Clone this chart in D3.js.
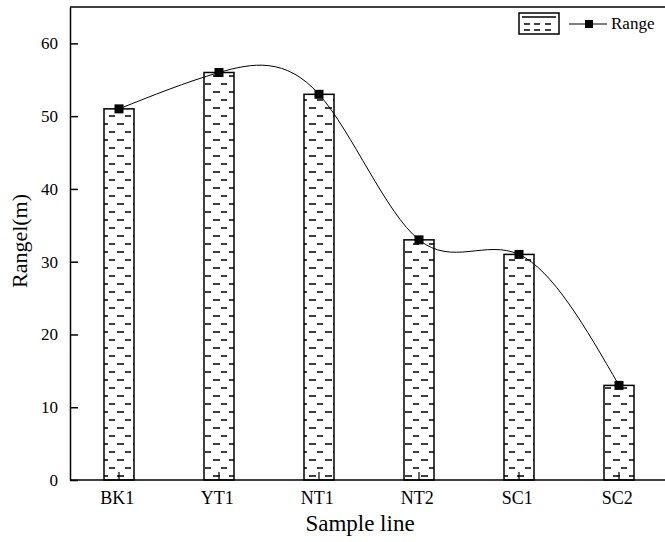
<!DOCTYPE html>
<html>
<head>
<meta charset="utf-8">
<script src="https://cdn.jsdelivr.net/npm/d3@7"></script>
<style>
  body { margin: 0; background: #fff; }
  svg { display: block; }
</style>
</head>
<body>
<script>
const categories = ["BK1", "YT1", "NT1", "NT2", "SC1", "SC2"];
const rangeValues = [51, 56, 53, 33, 31, 13];
const yTicks = [0, 10, 20, 30, 40, 50, 60];

const FONT = "Liberation Serif";

function main() {
    const width = 665;
    const height = 542;
    const margin = { left: 70, top: 7, bottom: 62 };
    const plotBottom = height - margin.bottom;

    const svg = d3.select("body").append("svg")
        .attr("width", width)
        .attr("height", height)
        .attr("font-family", FONT);

    // dash pattern for the bars
    const defs = svg.append("defs");
    const pat = defs.append("pattern")
        .attr("id", "dashes")
        .attr("patternUnits", "userSpaceOnUse")
        .attr("width", 16)
        .attr("height", 16)
        .attr("x", 104)
        .attr("y", plotBottom);
    pat.append("rect").attr("width", 16).attr("height", 16).attr("fill", "#fff");
    pat.append("path")
        .attr("d", "M5,4H11M13,12H16M0,12H4")
        .attr("stroke", "#000")
        .attr("stroke-width", 1.6);

    const x = d3.scaleBand()
        .domain(categories)
        .range([margin.left - 1, margin.left + 599])
        .paddingInner(0.7)
        .paddingOuter(0.35);

    const y = d3.scaleLinear()
        .domain([0, 65])
        .range([plotBottom, margin.top]);

    // bars
    svg.append("g")
        .selectAll("rect")
        .data(categories)
        .join("rect")
        .attr("x", d => x(d))
        .attr("y", (d, i) => y(rangeValues[i]))
        .attr("width", x.bandwidth())
        .attr("height", (d, i) => y(0) - y(rangeValues[i]))
        .attr("fill", "url(#dashes)")
        .attr("stroke", "#000")
        .attr("stroke-width", 1.5);

    // axes
    const yAxis = d3.axisLeft(y)
        .tickValues(yTicks)
        .tickSizeInner(-8)
        .tickSizeOuter(0)
        .tickPadding(12);
    const gy = svg.append("g")
        .attr("transform", `translate(${margin.left},0)`)
        .call(yAxis)
        .attr("font-family", FONT)
        .attr("font-size", 17);
    gy.select(".domain").attr("stroke-width", 1.5);
    gy.selectAll(".tick line").attr("stroke-width", 1.5);

    const xAxis = d3.axisBottom(x)
        .tickSizeInner(-8)
        .tickSizeOuter(0)
        .tickPadding(11);
    const gx = svg.append("g")
        .attr("transform", `translate(0,${plotBottom})`)
        .call(xAxis)
        .attr("font-family", FONT)
        .attr("font-size", 18);
    gx.select(".domain").attr("d", `M${margin.left},0H${width + 10}`).attr("stroke-width", 1.5);
    gx.selectAll(".tick line").attr("stroke-width", 1.2);
    gx.selectAll("text").attr("dx", "-0.1em");

    // top frame
    svg.append("line")
        .attr("x1", margin.left).attr("x2", width + 10)
        .attr("y1", margin.top).attr("y2", margin.top)
        .attr("stroke", "#000").attr("stroke-width", 1.5);

    // smooth line
    const cx = d => x(d) + x.bandwidth() / 2;
    const line = d3.line()
        .x((d, i) => cx(categories[i]))
        .y(d => y(d))
        .curve(d3.curveNatural);
    svg.append("path")
        .datum(rangeValues)
        .attr("d", line)
        .attr("fill", "none")
        .attr("stroke", "#000")
        .attr("stroke-width", 1);

    svg.append("g")
        .selectAll("rect")
        .data(rangeValues)
        .join("rect")
        .attr("x", (d, i) => cx(categories[i]) - 4.5)
        .attr("y", d => y(d) - 4.5)
        .attr("width", 9)
        .attr("height", 9)
        .attr("fill", "#000");

    // axis titles
    svg.append("text")
        .attr("x", 360)
        .attr("y", 531)
        .attr("text-anchor", "middle")
        .attr("font-family", FONT)
        .attr("font-size", 23)
        .text("Sample line");

    svg.append("text")
        .attr("transform", `translate(27,241) rotate(-90)`)
        .attr("text-anchor", "middle")
        .attr("font-family", FONT)
        .attr("font-size", 22)
        .text("Rangel(m)");

    // legend
    const lg = svg.append("g");
    lg.append("rect")
        .attr("x", 519).attr("y", 13)
        .attr("width", 40).attr("height", 21)
        .attr("fill", "#fff")
        .attr("stroke", "#000").attr("stroke-width", 1.5);
    lg.append("path")
        .attr("d", "M522,17H556M524,24H530M534,24H540M545,24H551M524,30H530M534,30H540M545,30H551")
        .attr("stroke", "#000").attr("stroke-width", 1.4);
    lg.append("line")
        .attr("x1", 569).attr("x2", 607)
        .attr("y1", 24).attr("y2", 24)
        .attr("stroke", "#000").attr("stroke-width", 1.2);
    lg.append("rect")
        .attr("x", 585).attr("y", 20)
        .attr("width", 8).attr("height", 8)
        .attr("fill", "#000");
    lg.append("text")
        .attr("x", 611).attr("y", 29)
        .attr("font-family", FONT)
        .attr("font-size", 17)
        .text("Range");
}

addEventListener('DOMContentLoaded', main);
</script>
</body>
</html>
